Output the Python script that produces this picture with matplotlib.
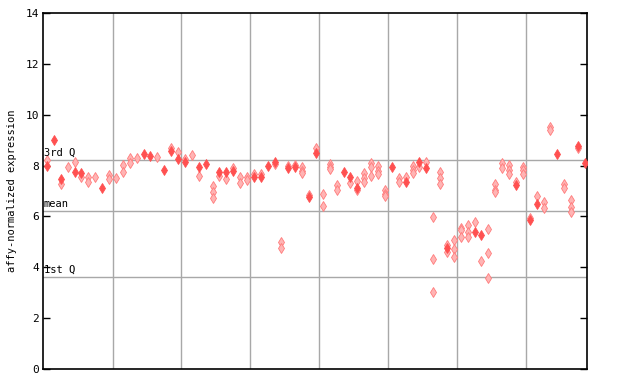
import numpy as np
import matplotlib
matplotlib.use('Agg')
import matplotlib.pyplot as plt

# per-column values: filled diamonds (solid) and pale (hatched) diamonds
filled_x = [1, 2, 3, 5, 6, 9, 15, 16, 18, 19, 20, 21, 23, 24, 26, 27, 28, 31, 32, 33,
            34, 36, 37, 39, 40, 44, 45, 46, 51, 53, 55, 56, 59, 63, 64, 69, 71, 72, 75, 78, 79]
filled_y = [7.98, 9.01, 7.47, 7.75, 7.71, 7.12, 8.45, 8.36, 7.83, 8.58, 8.26, 8.16, 7.96, 8.06, 7.75, 7.75, 7.79, 7.57, 7.57, 7.98,
            8.14, 7.90, 7.94, 6.76, 8.49, 7.75, 7.55, 7.10, 7.94, 7.37, 8.16, 7.90, 4.77, 5.39, 5.27, 7.22, 5.86, 6.49, 8.44, 8.77, 8.10]

hatched_x = [1, 3, 4, 5, 6, 7, 7, 8, 10, 10, 11, 12, 12, 13, 13, 14, 17, 19, 20, 21,
             22, 23, 25, 25, 25, 26, 27, 28, 29, 29, 30, 30, 31, 32, 34, 35, 35, 36, 37, 38,
             38, 38, 39, 40, 41, 41, 42, 42, 42, 43, 43, 45, 46, 46, 47, 47, 47, 48, 48, 48,
             49, 49, 49, 50, 50, 50, 52, 52, 53, 54, 54, 54, 55, 56, 57, 57, 57, 58, 58, 58,
             59, 59, 60, 60, 60, 61, 61, 61, 62, 62, 62, 63, 64, 65, 65, 65, 66, 66, 66, 67,
             67, 68, 68, 68, 69, 70, 70, 70, 71, 72, 73, 73, 74, 74, 76, 76, 77, 77, 77, 78]
hatched_y = [8.20, 7.27, 7.94, 8.14, 7.55, 7.55, 7.35, 7.55, 7.63, 7.47, 7.51, 8.02, 7.75, 8.30, 8.10, 8.30, 8.34, 8.69, 8.53, 8.24,
             8.40, 7.59, 7.20, 6.96, 6.72, 7.59, 7.47, 7.90, 7.55, 7.31, 7.55, 7.45, 7.65, 7.65, 8.06, 4.99, 4.76, 8.00, 8.02, 7.94,
             7.79, 7.71, 6.86, 8.71, 6.88, 6.41, 8.06, 7.96, 7.85, 7.24, 7.04, 7.31, 7.41, 7.04, 7.69, 7.53, 7.37, 8.12, 7.94, 7.59,
             7.98, 7.79, 7.65, 7.02, 6.90, 6.82, 7.51, 7.35, 7.55, 7.98, 7.83, 7.71, 7.94, 8.16, 5.98, 4.33, 3.03, 7.73, 7.51, 7.27,
             4.88, 4.62, 5.07, 4.72, 4.40, 5.54, 5.47, 5.19, 5.66, 5.39, 5.19, 5.78, 4.25, 5.51, 4.56, 3.58, 7.27, 7.04, 6.96, 8.10,
             7.90, 8.02, 7.83, 7.67, 7.35, 7.94, 7.83, 7.67, 5.94, 6.82, 6.58, 6.35, 9.52, 9.40, 7.27, 7.12, 6.65, 6.37, 6.17, 8.69]

ref_lines = {'3rd Q': 8.22, 'mean': 6.21, '1st Q': 3.62}
group_edges = [10.5, 20.5, 30.5, 40.5, 50.5, 60.5, 70.5]

plt.rcParams['font.family'] = ['DejaVu Sans Mono']
fig = plt.figure(figsize=(6.4, 3.84), dpi=100)
ax = fig.add_axes([43/640, 15/384, 544/640, 356/384])

for g in group_edges:
    ax.axvline(g, color='#a8a8a8', lw=1.0, zorder=1)
for lab, v in ref_lines.items():
    ax.axhline(v, color='#a8a8a8', lw=1.0, zorder=1)
    ax.text(0.5, v + 0.08, lab, fontsize=7.5, va='bottom', ha='left', zorder=5)

ax.plot(hatched_x, hatched_y, linestyle='none', marker='d', markersize=5.5,
        markerfacecolor='#ffb4b4', markeredgecolor='#ff7a7a', markeredgewidth=0.6, zorder=3)
ax.plot(filled_x, filled_y, linestyle='none', marker='d', markersize=5.5,
        markerfacecolor='#ff5050', markeredgecolor='#ff5050', markeredgewidth=0.6, zorder=4)

ax.set_xlim(0.42, 79.3)
ax.set_ylim(0, 14)
ax.set_yticks(range(0, 15, 2))
ax.set_xticks([])
ax.tick_params(axis='y', direction='in', length=5, width=1, labelsize=8, right=True, pad=3)
for s in ax.spines.values():
    s.set_linewidth(1.2)
ax.set_ylabel('affy-normalized expression', fontsize=7.5, labelpad=6)

fig.savefig('out.png', dpi=100)
